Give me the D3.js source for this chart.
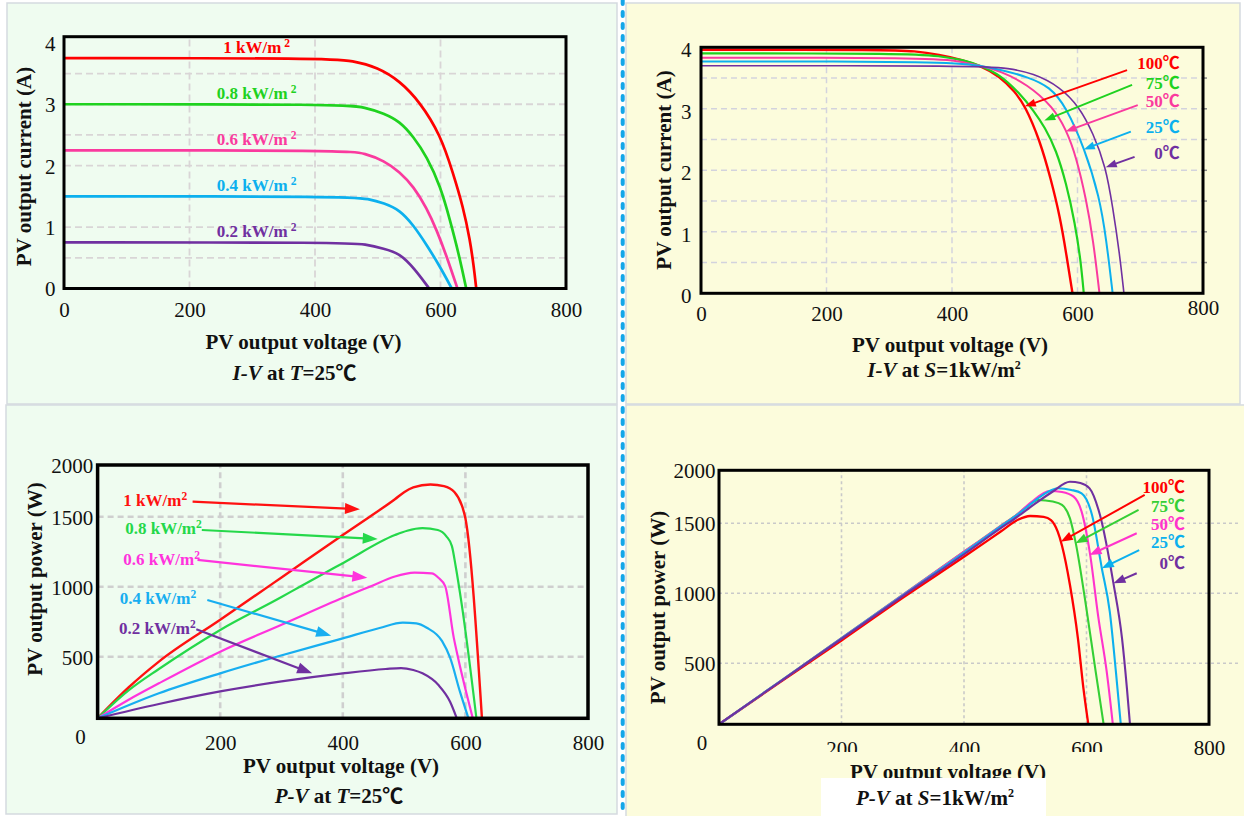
<!DOCTYPE html>
<html><head><meta charset="utf-8">
<script src="https://cdn.jsdelivr.net/npm/d3@7"></script>
<style>
body{margin:0;background:#fff}
svg{display:block}
text{white-space:pre}
</style>
</head><body>
<script>
// ---------------- DATA ----------------
const voltageTicks = [0, 200, 400, 600, 800];
const currentTicks = [0, 1, 2, 3, 4];
const powerTicks = [500, 1000, 1500, 2000];
const irradianceNames = ["1 kW/m", "0.8 kW/m", "0.6 kW/m", "0.4 kW/m", "0.2 kW/m"];
const temperatureNames = ["100℃", "75℃", "50℃", "25℃", "0℃"];

// I-V at T=25℃  [voltage V, current A]
const ivS10 = [[0,3.75],[420,3.75],[460,3.71],[500,3.60],[535,3.38],[567,3.04],[600,2.50],[620,1.88],[636,1.33],[647,0.79],[653,0.36],[657,0]];
const ivS08 = [[0,3.0],[445,3.0],[480,2.95],[510,2.85],[535,2.72],[557,2.47],[578,2.15],[600,1.66],[615,1.12],[629,0.57],[641,0]];
const ivS06 = [[0,2.25],[450,2.25],[480,2.20],[510,2.08],[535,1.90],[557,1.66],[578,1.31],[594,0.95],[610,0.52],[627,0]];
const ivS04 = [[0,1.5],[455,1.5],[485,1.46],[510,1.39],[535,1.28],[557,1.03],[578,0.71],[599,0.36],[618,0]];
const ivS02 = [[0,0.75],[450,0.75],[480,0.72],[510,0.65],[535,0.57],[558,0.33],[582,0]];

// I-V at S=1kW/m2
const ivT100 = [[0,3.96],[300,3.96],[340,3.94],[380,3.88],[415,3.80],[445,3.70],[476,3.53],[500,3.28],[516,3.06],[540,2.49],[558,1.84],[572,1.25],[582,0.65],[592,0]];
const ivT75 = [[0,3.90],[330,3.90],[380,3.86],[420,3.79],[445,3.70],[476,3.56],[508,3.25],[530,2.97],[548,2.70],[566,2.33],[582,1.79],[596,1.14],[605,0.54],[610,0]];
const ivT50 = [[0,3.83],[360,3.83],[410,3.78],[445,3.70],[476,3.62],[520,3.40],[561,3.03],[582,2.66],[598,2.22],[614,1.52],[625,0.87],[635,0]];
const ivT25 = [[0,3.77],[400,3.77],[445,3.70],[480,3.63],[520,3.52],[556,3.36],[582,3.03],[611,2.36],[635,1.57],[646,0.87],[656,0]];
const ivT0 = [[0,3.70],[445,3.70],[490,3.66],[529,3.58],[572,3.36],[603,3.03],[625,2.60],[645,2.06],[656,1.41],[667,0.65],[674,0]];

// P-V at T=25℃  [voltage V, power W]
const pvS10 = [[0,0],[50,248],[100,460],[200,764],[300,1066],[400,1369],[444,1500],[485,1669],[500,1737],[515,1783],[543,1812],[565,1795],[582,1739],[594,1612],[600,1489],[627,0]];
const pvS08 = [[0,0],[50,224],[100,400],[200,691],[300,926],[330,1000],[400,1168],[485,1369],[505,1400],[530,1418],[555,1405],[569,1360],[578,1290],[584,1150],[594,874],[618,0]];
const pvS06 = [[0,0],[50,149],[100,284],[200,536],[300,728],[400,921],[444,1000],[485,1073],[502,1092],[517,1100],[545,1095],[556,1064],[567,1004],[581,636],[588,492],[601,218],[612,0]];
const pvS04 = [[0,0],[100,203],[200,365],[292,500],[400,631],[460,705],[498,743],[520,738],[537,707],[562,611],[575,492],[591,218],[605,0]];
const pvS02 = [[0,0],[100,116],[200,218],[300,299],[400,364],[470,400],[495,408],[515,392],[530,365],[556,270],[575,135],[586,0]];

// P-V at S=1kW/m2
const pvT100 = [[0,0],[100,346],[200,663],[300,968],[400,1261],[460,1441],[488,1533],[508,1569],[530,1560],[542,1530],[553,1440],[560,1340],[573,1059],[586,678],[595,295],[603,0]];
const pvT75 = [[0,0],[100,353],[200,680],[300,988],[400,1297],[460,1481],[488,1590],[505,1670],[521,1720],[545,1705],[560,1673],[573,1547],[582,1369],[599,916],[615,431],[628,0]];
const pvT50 = [[0,0],[100,353],[200,680],[300,988],[400,1297],[460,1481],[488,1590],[510,1700],[540,1805],[560,1795],[579,1751],[592,1610],[606,1274],[619,839],[633,431],[643,0]];
const pvT25 = [[0,0],[100,353],[200,678],[300,985],[400,1290],[460,1478],[488,1585],[515,1710],[535,1790],[553,1830],[575,1815],[592,1783],[609,1578],[625,1179],[638,869],[648,431],[656,0]];
const pvT0 = [[0,0],[100,350],[200,675],[300,980],[400,1279],[460,1465],[488,1565],[515,1680],[545,1800],[573,1892],[590,1880],[605,1830],[622,1578],[644,1071],[658,678],[666,295],[671,0]];

// annotation arrows [tailV, tailY, tipV, tipY] and label anchors [V, Y]
const arrowsTR = [[679,3.63,516,3.04],[687,3.39,547,2.81],[696,3.06,581,2.63],[685,2.63,610,2.34],[691,2.22,645,2.05]];
const labelsTR = [[763,3.74],[763,3.42],[763,3.12],[763,2.70],[763,2.28]];
const arrowsBL = [[155,1645,428,1572],[170,1405,457,1341],[163,1191,440,1064],[179,905,381,650],[161,696,350,365]];
const labelsBL = [[42,1662],[45,1417],[42,1196],[36,917],[35,702]];
const arrowsBR = [[695,1767,558,1369],[685,1626,582,1357],[682,1429,605,1274],[686,1309,625,1179],[682,1143,644,1071]];
const labelsBR = [[761,1845],[761,1663],[761,1495],[761,1364],[761,1214]];

// ---------------- DRAWING ----------------
const SERIF = "'Liberation Serif','Times New Roman','Noto Sans CJK SC',serif";
const colTop = ["#ff0000","#1fd21f","#fa3a9e","#0cb0ee","#7030a0"];
const colBL = ["#ff1111","#25d84a","#ff33dd","#18aef0","#7030a0"];
const colBR = ["#ff0000","#35cf35","#ff33cc","#0cb0ee","#7030a0"];

const svg = d3.select("body").append("svg").attr("width",1244).attr("height",816);
svg.append("rect").attr("width",1244).attr("height",816).attr("fill","#ffffff");

// panels
const panelStroke = "#d5dadf";
svg.append("rect").attr("x",7).attr("y",3).attr("width",610).attr("height",401).attr("fill","#effcf0").attr("stroke",panelStroke).attr("stroke-width",1.5);
svg.append("rect").attr("x",6).attr("y",405).attr("width",611).attr("height",409).attr("fill","#effcf0").attr("stroke",panelStroke).attr("stroke-width",1.5);
svg.append("rect").attr("x",626).attr("y",3).attr("width",614).attr("height",401).attr("fill","#fcfcdc").attr("stroke",panelStroke).attr("stroke-width",1.5);
svg.append("rect").attr("x",626).attr("y",405).attr("width",620).attr("height",413).attr("fill","#fcfcdc").attr("stroke",panelStroke).attr("stroke-width",1.5);

function grid(g, x, y, vVals, hVals, style, hExtendTo) {
  const yr = y.range(), xr = x.range();
  g.selectAll(null).data(vVals).join("line")
    .attr("x1",d=>x(d)).attr("x2",d=>x(d)).attr("y1",yr[0]).attr("y2",yr[yr.length-1])
    .attr("stroke",style.c).attr("stroke-width",style.w).attr("stroke-dasharray",style.d);
  g.selectAll(null).data(hVals).join("line")
    .attr("x1",xr[0]).attr("x2",hExtendTo || xr[1]).attr("y1",d=>y(d)).attr("y2",d=>y(d))
    .attr("stroke",style.c).attr("stroke-width",style.w).attr("stroke-dasharray",style.d);
}

function curves(g, x, y, series, colors, widths, curve) {
  const line = d3.line().x(d=>x(d[0])).y(d=>y(d[1])).curve(curve);
  series.forEach((s,i)=>{
    g.append("path").attr("d",line(s)).attr("fill","none").attr("stroke",colors[i])
      .attr("stroke-width",widths[i]).attr("stroke-linejoin","round");
  });
}

function box(g, x, y, w) {
  const xr = x.range(), yr = y.range();
  g.append("rect").attr("x",xr[0]).attr("y",yr[yr.length-1]).attr("width",xr[1]-xr[0])
    .attr("height",yr[0]-yr[yr.length-1]).attr("fill","none").attr("stroke","#000").attr("stroke-width",w);
}

function xAxis(g, x, y, offsets, shiftX) {
  const yr = y.range();
  const ax = g.append("g").attr("transform",`translate(0,${yr[0]})`)
    .call(d3.axisBottom(x).tickValues(voltageTicks).tickSize(0).tickFormat(d3.format("d")));
  ax.select(".domain").remove();
  ax.attr("font-family",SERIF).attr("font-size",21);
  ax.selectAll(".tick text").attr("fill","#111").attr("dy","0.35em")
    .attr("y",d=> offsets[d] !== undefined ? offsets[d] : offsets.def)
    .attr("dx",d=> (shiftX && d===0) ? shiftX : 0);
  return ax;
}

function yAxis(g, x, y, vals, pad, dy) {
  const xr = x.range();
  const ax = g.append("g").attr("transform",`translate(${xr[0]},0)`)
    .call(d3.axisLeft(y).tickValues(vals).tickSize(0).tickPadding(pad).tickFormat(d3.format("d")));
  ax.select(".domain").remove();
  ax.attr("font-family",SERIF).attr("font-size",21);
  ax.selectAll(".tick text").attr("fill","#111").attr("dy",(dy||0.35)+"em");
}

function title(g, txt, cx, cy, rotate) {
  g.append("text").attr("transform",`translate(${cx},${cy})` + (rotate?" rotate(-90)":""))
    .attr("text-anchor","middle").attr("dy","0.35em")
    .attr("font-family",SERIF).attr("font-size",21).attr("font-weight","bold").attr("fill","#111").text(txt);
}

function subtitle(g, parts, cx, cy, sup) {
  const t = g.append("text").attr("x",cx).attr("y",cy).attr("dy","0.35em").attr("text-anchor","middle")
    .attr("font-family",SERIF).attr("font-size",21).attr("font-weight","bold").attr("fill","#111");
  parts.forEach(p=>{ t.append("tspan").attr("font-style",p[1]?"italic":"normal").text(p[0]); });
  if (sup) t.append("tspan").attr("dy",-8).attr("font-size",12).text("2");
}

function supLabel(g, txt, px, py, color, size, anchor, gap) {
  const t = g.append("text").attr("x",px).attr("y",py).attr("dy","0.35em").attr("text-anchor",anchor)
    .attr("font-family",SERIF).attr("font-size",size).attr("font-weight","bold").attr("fill",color);
  t.append("tspan").text(txt);
  t.append("tspan").attr("dx",gap).attr("dy",-6).attr("font-size",size*0.68).text("2");
}

function plainLabel(g, txt, px, py, color, size, anchor) {
  g.append("text").attr("x",px).attr("y",py).attr("dy","0.35em").attr("text-anchor",anchor)
    .attr("font-family",SERIF).attr("font-size",size).attr("font-weight","bold").attr("fill",color).text(txt);
}

function arrow(g, x, y, a, color, headL, headW, sw) {
  const x1=x(a[0]), y1=y(a[1]), x2=x(a[2]), y2=y(a[3]);
  const dx=x2-x1, dy=y2-y1, L=Math.hypot(dx,dy), ux=dx/L, uy=dy/L;
  const bx=x2-ux*headL, by=y2-uy*headL;
  g.append("line").attr("x1",x1).attr("y1",y1).attr("x2",bx+ux*2).attr("y2",by+uy*2)
    .attr("stroke",color).attr("stroke-width",sw);
  g.append("path").attr("d",`M${x2},${y2}L${bx-uy*headW/2},${by+ux*headW/2}L${bx+uy*headW/2},${by-ux*headW/2}Z`).attr("fill",color);
}

// ===== Top-left: I-V at T=25℃ =====
{
  const g = svg.append("g");
  const x = d3.scaleLinear().domain([0,800]).range([64,566]);
  const y = d3.scaleLinear().domain([0,4.1]).range([288.5,36.7]);
  grid(g,x,y,[200,400,600],d3.range(0.5,3.51,0.5),{c:"#d9d5d6",w:1.8,d:"7,4"});
  const series = [ivS10, ivS08, ivS06, ivS04, ivS02];
  curves(g,x,y,series,colTop,[2.7,2.7,2.7,2.7,2.7],d3.curveBasis);
  box(g,x,y,3);
  xAxis(g,x,y,{def:21.5});
  yAxis(g,x,y,currentTicks,8.6);
  series.forEach((s,i)=> supLabel(g, irradianceNames[i], x(307), y(s[0][1]) - 11, colTop[i], 17, "middle", 3));
  title(g,"PV output voltage (V)",303.5,341.7,false);
  title(g,"PV output current (A)",24,166.5,true);
  subtitle(g,[["I-V",true],[" at ",false],["T",true],["=25℃",false]],294.6,372.7,false);
}

// ===== Top-right: I-V at S=1kW/m2 =====
{
  const g = svg.append("g");
  const x = d3.scaleLinear().domain([0,800]).range([701,1203]);
  const y = d3.scaleLinear().domain([0,4]).range([293.3,47.3]);
  const hv = d3.range(0.5,3.51,0.5);
  grid(g,x,y,[200,400,600],hv,{c:"#d3d3dd",w:1.5,d:"6,4"});
  g.selectAll(null).data(hv).join("line").attr("x1",1203).attr("x2",1207).attr("y1",d=>y(d)).attr("y2",d=>y(d))
    .attr("stroke","#888").attr("stroke-width",1.5);
  const series = [ivT100, ivT75, ivT50, ivT25, ivT0];
  curves(g,x,y,series,colTop,[2.4,2.2,2.0,2.0,1.6],d3.curveBasis);
  box(g,x,y,3);
  xAxis(g,x,y,{def:20.7, 800:14.7});
  yAxis(g,x,y,currentTicks,9.4,0.45);
  arrowsTR.forEach((a,i)=> arrow(g,x,y,a,colTop[i],11,8,1.9));
  labelsTR.forEach((p,i)=> plainLabel(g, temperatureNames[i], x(p[0]), y(p[1]), colTop[i], 17, "end"));
  title(g,"PV output voltage (V)",950,345,false);
  title(g,"PV output current (A)",664,170,true);
  subtitle(g,[["I-V",true],[" at ",false],["S",true],["=1kW/m",false]],944,369.3,true);
}

// ===== Bottom-left: P-V at T=25℃ =====
{
  const g = svg.append("g");
  const x = d3.scaleLinear().domain([0,800]).range([97.6,588]);
  const y = d3.scaleLinear().domain([0,500,1500,2000]).range([718.3,656.7,516.7,465]);
  grid(g,x,y,[200,400,600],[500,1000,1500],{c:"#cfcfcf",w:2.6,d:"6,4"});
  const series = [pvS10, pvS08, pvS06, pvS04, pvS02];
  curves(g,x,y,series,colBL,[2.4,2.2,2.2,2.2,2.2],d3.curveMonotoneX);
  box(g,x,y,3.5);
  xAxis(g,x,y,{def:24.7, 0:18.4},-17.6);
  yAxis(g,x,y,powerTicks,4.3);
  arrowsBL.forEach((a,i)=> arrow(g,x,y,a,colBL[i],15,11,2.2));
  labelsBL.forEach((p,i)=> supLabel(g, irradianceNames[i], x(p[0]), y(p[1]), colBL[i], 17, "start", 0));
  title(g,"PV output voltage (V)",341,765.7,false);
  title(g,"PV output power (W)",35,579,true);
  subtitle(g,[["P-V",true],[" at ",false],["T",true],["=25℃",false]],339,795.7,false);
}

// ===== Bottom-right: P-V at S=1kW/m2 =====
{
  const g = svg.append("g");
  const x = d3.scaleLinear().domain([0,800]).range([719,1209]);
  const y = d3.scaleLinear().domain([0,500,1500,2000]).range([724.3,663.3,523.3,470.3]);
  grid(g,x,y,[200,400,600],[500,1000,1500],{c:"#c9c9c9",w:1.6,d:"3,3"},1240);
  const series = [pvT100, pvT75, pvT50, pvT25, pvT0];
  curves(g,x,y,series,colBR,[2.3,2.1,2.1,2.1,2.1],d3.curveMonotoneX);
  box(g,x,y,3);
  xAxis(g,x,y,{def:24.5, 0:18.7, 800:23.2},-17.4);
  yAxis(g,x,y,powerTicks,3.5);
  arrowsBR.forEach((a,i)=> arrow(g,x,y,a,colBR[i],12,9,2));
  labelsBR.forEach((p,i)=> plainLabel(g, temperatureNames[i], x(p[0]), y(p[1]), colBR[i], 17, "end"));
  // overlapping picture pieces of the original figure
  g.append("rect").attr("x",790).attr("y",752).attr("width",320).attr("height",10).attr("fill","#fcfcdc");
  title(g,"PV output voltage (V)",948,771.7,false);
  g.append("rect").attr("x",821).attr("y",778).attr("width",225).attr("height",40).attr("fill","#ffffff");
  title(g,"PV output power (W)",658,607.5,true);
  subtitle(g,[["P-V",true],[" at ",false],["S",true],["=1kW/m",false]],935,797.7,true);
}

// blue dashed divider
svg.append("line").attr("x1",622.7).attr("x2",622.7).attr("y1",0).attr("y2",816)
  .attr("stroke","#14a6e8").attr("stroke-width",4).attr("stroke-dasharray","4,8").attr("stroke-linecap","round");
</script>
</body></html>
